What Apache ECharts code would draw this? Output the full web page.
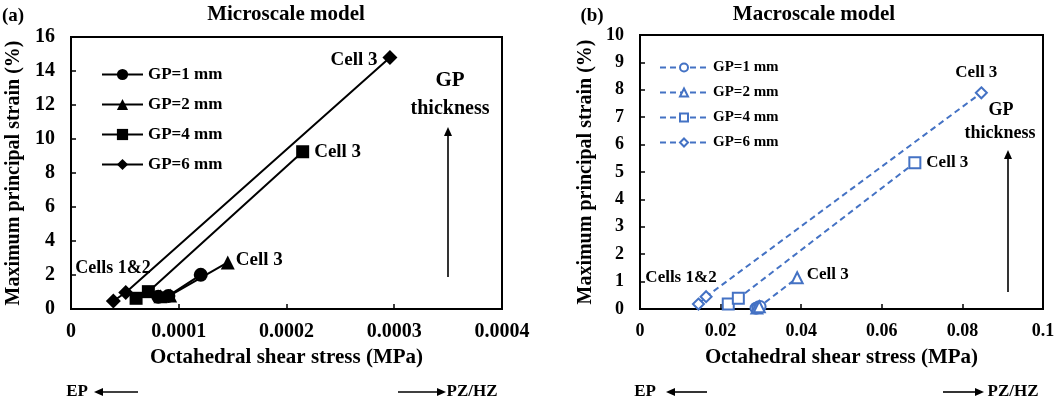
<!DOCTYPE html>
<html>
<head>
<meta charset="utf-8">
<script src="https://cdn.jsdelivr.net/npm/echarts@6/dist/echarts.min.js"></script>
<style>
  html, body { margin: 0; padding: 0; background: #fff; }
  #chart { width: 1058px; height: 405px; }
</style>
</head>
<body>
<div id="chart"></div>
<script>
// series names
var gpNames = ['GP=1 mm', 'GP=2 mm', 'GP=4 mm', 'GP=6 mm'];

// (a) microscale model: [octahedral shear stress (MPa), max principal strain (%)]
var microGP1 = [[0.0000810, 0.72], [0.0000904, 0.77], [0.0001204, 2.01]];
var microGP2 = [[0.0000830, 0.75], [0.0000920, 0.80], [0.0001455, 2.74]];
var microGP4 = [[0.0000604, 0.63], [0.0000718, 1.02], [0.0002150, 9.25]];
var microGP6 = [[0.0000393, 0.47], [0.0000508, 0.97], [0.0002960, 14.8]];

// (b) macroscale model
var macroGP1 = [[0.0288, 0.03], [0.0293, 0.06], [0.0298, 0.09]];
var macroGP2 = [[0.0290, 0.04], [0.0296, 0.08], [0.0390, 1.14]];
var macroGP4 = [[0.0219, 0.18], [0.0244, 0.39], [0.0682, 5.34]];
var macroGP6 = [[0.0145, 0.18], [0.0164, 0.45], [0.0847, 7.89]];

var microYTicks = { min: 0, max: 16, interval: 2 };
var microXTicks = { min: 0, max: 0.0004, interval: 0.0001 };
var macroYTicks = { min: 0, max: 10, interval: 1 };
var macroXTicks = { min: 0, max: 0.1, interval: 0.02 };

var serif = 'Liberation Serif';
var blue = '#4472C4';

// put a "Cell 3" label on the last point of a series
function withCellLabel(data, pos, offset, size) {
    if (!pos) return data;
    return data.map(function (p, i) {
        if (i !== data.length - 1) return p;
        return {
            value: p,
            label: {
                show: true, formatter: 'Cell 3', position: pos, offset: offset || [0, 0],
                color: '#000', fontFamily: serif, fontWeight: 'bold', fontSize: size
            }
        };
    });
}

function microSeries(name, data, symbol, size, pos, offset) {
    return {
        type: 'line', name: name, xAxisIndex: 0, yAxisIndex: 0,
        data: withCellLabel(data, pos, offset, 19),
        symbol: symbol, symbolSize: size,
        itemStyle: { color: '#000' },
        lineStyle: { color: '#000', width: 2 },
        animation: false
    };
}

function macroSeries(name, data, symbol, pos, offset) {
    return {
        type: 'line', name: name + ' ', xAxisIndex: 1, yAxisIndex: 1,
        data: withCellLabel(data, pos, offset, 17),
        symbol: symbol, symbolSize: 11, showAllSymbol: true,
        itemStyle: { color: '#fff', borderColor: blue, borderWidth: 2 },
        lineStyle: { color: blue, width: 2, type: [6, 4] },
        animation: false
    };
}

function xAxis(grid, ticks, fontSize) {
    return {
        type: 'value', gridIndex: grid, min: ticks.min, max: ticks.max, interval: ticks.interval,
        name: 'Octahedral shear stress (MPa)', nameLocation: 'middle', nameGap: 38,
        nameTextStyle: { fontFamily: serif, fontWeight: 'bold', fontSize: 21, color: '#000' },
        axisLine: { lineStyle: { color: '#000', width: 2 } },
        axisTick: { inside: true, length: 5, lineStyle: { color: '#000', width: 1.5 } },
        axisLabel: { fontFamily: serif, fontWeight: 'bold', fontSize: fontSize, color: '#000', margin: 13 },
        splitLine: { show: false }
    };
}

function yAxis(grid, ticks, fontSize, gap) {
    return {
        type: 'value', gridIndex: grid, min: ticks.min, max: ticks.max, interval: ticks.interval,
        name: 'Maximum principal strain (%)', nameLocation: 'middle', nameGap: gap,
        nameTextStyle: { fontFamily: serif, fontWeight: 'bold', fontSize: 20, color: '#000' },
        axisLine: { lineStyle: { color: '#000', width: 2 } },
        axisTick: { inside: true, length: 5, lineStyle: { color: '#000', width: 1.5 } },
        axisLabel: { fontFamily: serif, fontWeight: 'bold', fontSize: fontSize, color: '#000', margin: 16 },
        splitLine: { show: false }
    };
}

function txt(x, y, s, size, align) {
    return {
        type: 'text', x: x, y: y, silent: true,
        style: { text: s, fill: '#000', font: 'bold ' + size + 'px "' + serif + '"',
                 align: align || 'center', verticalAlign: 'middle' }
    };
}

function arrow(x1, y1, x2, y2) {
    var ang = Math.atan2(y2 - y1, x2 - x1), L = 9, W = 4;
    var bx = x2 - L * Math.cos(ang), by = y2 - L * Math.sin(ang);
    var px = -Math.sin(ang) * W, py = Math.cos(ang) * W;
    return {
        type: 'group', silent: true,
        children: [
            { type: 'line', shape: { x1: x1, y1: y1, x2: bx, y2: by }, style: { stroke: '#000', lineWidth: 1.6 } },
            { type: 'polygon', shape: { points: [[x2, y2], [bx + px, by + py], [bx - px, by - py]] }, style: { fill: '#000' } }
        ]
    };
}

var chart = echarts.init(document.getElementById('chart'), null, { renderer: 'canvas' });

var option = {
    backgroundColor: '#fff',
    animation: false,
    grid: [
        { left: 71, top: 37, width: 431, height: 272, show: true, borderColor: '#000', borderWidth: 2 },
        { left: 640, top: 35, width: 403, height: 274, show: true, borderColor: '#000', borderWidth: 2 }
    ],
    xAxis: [xAxis(0, microXTicks, 20), xAxis(1, macroXTicks, 18)],
    yAxis: [yAxis(0, microYTicks, 20, 47), yAxis(1, macroYTicks, 18, 44)],
    legend: [
        {
            data: gpNames, orient: 'vertical', left: 96, top: 61, itemGap: 13,
            itemWidth: 41, itemHeight: 14, selectedMode: false,
            textStyle: { fontFamily: serif, fontWeight: 'bold', fontSize: 17, color: '#000' }
        },
        {
            data: gpNames.map(function (n) { return n + ' '; }), orient: 'vertical', left: 654, top: 55, itemGap: 10,
            itemWidth: 48, itemHeight: 10, selectedMode: false,
            textStyle: { fontFamily: serif, fontWeight: 'bold', fontSize: 15, color: '#000' }
        }
    ],
    series: [
        microSeries(gpNames[0], microGP1, 'circle', 14),
        microSeries(gpNames[1], microGP2, 'triangle', 14, 'right', [-4, -2]),
        microSeries(gpNames[2], microGP4, 'rect', 13, 'right', [0, 0]),
        microSeries(gpNames[3], microGP6, 'diamond', 15, 'left', [0, 3]),
        macroSeries(gpNames[0], macroGP1, 'circle'),
        macroSeries(gpNames[1], macroGP2, 'triangle', 'right', [-2, -3]),
        macroSeries(gpNames[2], macroGP4, 'rect', 'right', [0, 0]),
        macroSeries(gpNames[3], macroGP6, 'diamond', 'top', [-5, 0])
    ],
    graphic: [
        txt(13, 16, '(a)', 19),
        txt(592, 16, '(b)', 19),
        txt(286, 15, 'Microscale model', 21),
        txt(814, 15, 'Macroscale model', 21),
        txt(113, 268, 'Cells 1&2', 18),
        txt(681, 278, 'Cells 1&2', 17),
        txt(450, 81, 'GP', 21),
        txt(450, 109, 'thickness', 20),
        arrow(448, 277, 448, 127),
        txt(1001, 110, 'GP', 18),
        txt(1000, 133, 'thickness', 18),
        arrow(1008, 292, 1008, 150),
        txt(77, 392, 'EP', 17),
        arrow(138, 392, 94, 392),
        arrow(398, 392, 446, 392),
        txt(472, 392, 'PZ/HZ', 17),
        txt(645, 392, 'EP', 17),
        arrow(707, 392, 666, 392),
        arrow(943, 392, 984, 392),
        txt(1013, 392, 'PZ/HZ', 17)
    ]
};

chart.setOption(option);
</script>
</body>
</html>
